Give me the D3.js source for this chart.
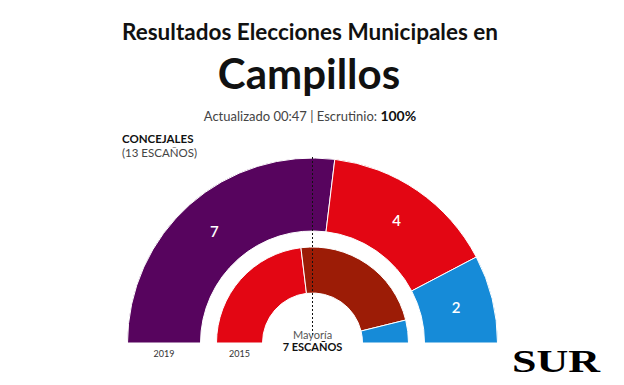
<!DOCTYPE html>
<html>
<head>
<meta charset="utf-8">
<script src="https://cdn.jsdelivr.net/npm/d3@7"></script>
<style>
    body { margin: 0; background: #fff; }
    svg { display: block; }
</style>
</head>
<body>
<script>
// Seats per party, 2019 (outer ring) and 2015 (inner ring)
var parties2019 = ["AxC", "PSOE", "PP"];
var seats2019 = [7, 4, 2];
var colors2019 = ["#57045e", "#e30613", "#168bd8"];

var parties2015 = ["PSOE", "IU", "PP"];
var seats2015 = [6, 6, 1];
var colors2015 = ["#e30613", "#9c1c06", "#168bd8"];

var totalSeats = 13;
var majority = 7;

var width = 624, height = 385;
var cx = 312.5, cy = 343;

var svg = d3.select("body").append("svg")
    .attr("width", width)
    .attr("height", height);

// Titles
svg.append("text")
    .attr("x", 310).attr("y", 40)
    .attr("text-anchor", "middle")
    .attr("font-family", "Lato")
    .attr("font-weight", "bold")
    .attr("font-size", "22.5px")
    .attr("fill", "#111")
    .text("Resultados Elecciones Municipales en");

svg.append("text")
    .attr("x", 309).attr("y", 89)
    .attr("text-anchor", "middle")
    .attr("font-family", "Lato")
    .attr("font-weight", "bold")
    .attr("font-size", "42px")
    .attr("fill", "#111")
    .text("Campillos");

var sub = svg.append("text")
    .attr("x", 310).attr("y", 121)
    .attr("text-anchor", "middle")
    .attr("font-family", "Lato")
    .attr("font-size", "13px")
    .attr("fill", "#444");
sub.append("tspan").text("Actualizado 00:47 | Escrutinio: ");
sub.append("tspan")
    .attr("font-weight", "bold")
    .attr("font-size", "14px")
    .attr("fill", "#111")
    .text("100%");

svg.append("text")
    .attr("x", 122).attr("y", 143)
    .attr("font-family", "Lato")
    .attr("font-weight", "bold")
    .attr("font-size", "11.5px")
    .attr("fill", "#111")
    .text("CONCEJALES");

svg.append("text")
    .attr("x", 122).attr("y", 157)
    .attr("font-family", "Lato")
    .attr("font-size", "11.5px")
    .attr("fill", "#444")
    .text("(" + totalSeats + " ESCAÑOS)");

// Half-donut rings
var pie = d3.pie()
    .sort(null)
    .startAngle(-Math.PI / 2)
    .endAngle(Math.PI / 2);

var outerArc = d3.arc().innerRadius(112).outerRadius(185);
var innerArc = d3.arc().innerRadius(50).outerRadius(96);

var chart = svg.append("g")
    .attr("transform", "translate(" + cx + "," + cy + ")");

var outerData = pie(seats2019);
chart.selectAll("path.outer")
    .data(outerData)
    .enter()
    .append("path")
    .attr("class", "outer")
    .attr("d", outerArc)
    .attr("fill", function (d, i) { return colors2019[i]; })
    .attr("stroke", "#fff")
    .attr("stroke-width", 1);

chart.selectAll("path.inner")
    .data(pie(seats2015))
    .enter()
    .append("path")
    .attr("class", "inner")
    .attr("d", innerArc)
    .attr("fill", function (d, i) { return colors2015[i]; })
    .attr("stroke", "#fff")
    .attr("stroke-width", 1);

// Seat labels on the 2019 ring
var labelArc = d3.arc().innerRadius(148).outerRadius(148);
chart.selectAll("text.seats")
    .data(outerData)
    .enter()
    .append("text")
    .attr("class", "seats")
    .attr("transform", function (d) {
        return "translate(" + labelArc.centroid(d) + ")";
    })
    .attr("dy", "0.35em")
    .attr("text-anchor", "middle")
    .attr("font-family", "Lato")
    .attr("font-weight", "600")
    .attr("font-size", "15px")
    .attr("fill", "#fff")
    .text(function (d) { return d.value; });

// Majority line
chart.append("line")
    .attr("x1", 0).attr("x2", 0)
    .attr("y1", -186).attr("y2", -8)
    .attr("stroke", "#111")
    .attr("stroke-width", 1)
    .attr("stroke-dasharray", "2,2");

chart.append("text")
    .attr("x", 0).attr("y", -4)
    .attr("text-anchor", "middle")
    .attr("font-family", "Lato")
    .attr("font-size", "11px")
    .attr("fill", "#555")
    .text("Mayoría");

chart.append("text")
    .attr("x", 0).attr("y", 8)
    .attr("text-anchor", "middle")
    .attr("font-family", "Lato")
    .attr("font-weight", "bold")
    .attr("font-size", "11px")
    .attr("fill", "#111")
    .text(majority + " ESCAÑOS");

// Year labels
chart.append("text")
    .attr("x", -148.5).attr("y", 14)
    .attr("text-anchor", "middle")
    .attr("font-family", "Lato")
    .attr("font-size", "9px")
    .attr("fill", "#333")
    .text("2019");

chart.append("text")
    .attr("x", -73).attr("y", 14)
    .attr("text-anchor", "middle")
    .attr("font-family", "Lato")
    .attr("font-size", "9px")
    .attr("fill", "#333")
    .text("2015");

// Logo
svg.append("text")
    .attr("x", 512).attr("y", 372)
    .attr("font-family", "Liberation Serif")
    .attr("font-weight", "bold")
    .attr("font-size", "31px")
    .attr("textLength", 88)
    .attr("lengthAdjust", "spacingAndGlyphs")
    .attr("fill", "#000")
    .text("SUR");
</script>
</body>
</html>
